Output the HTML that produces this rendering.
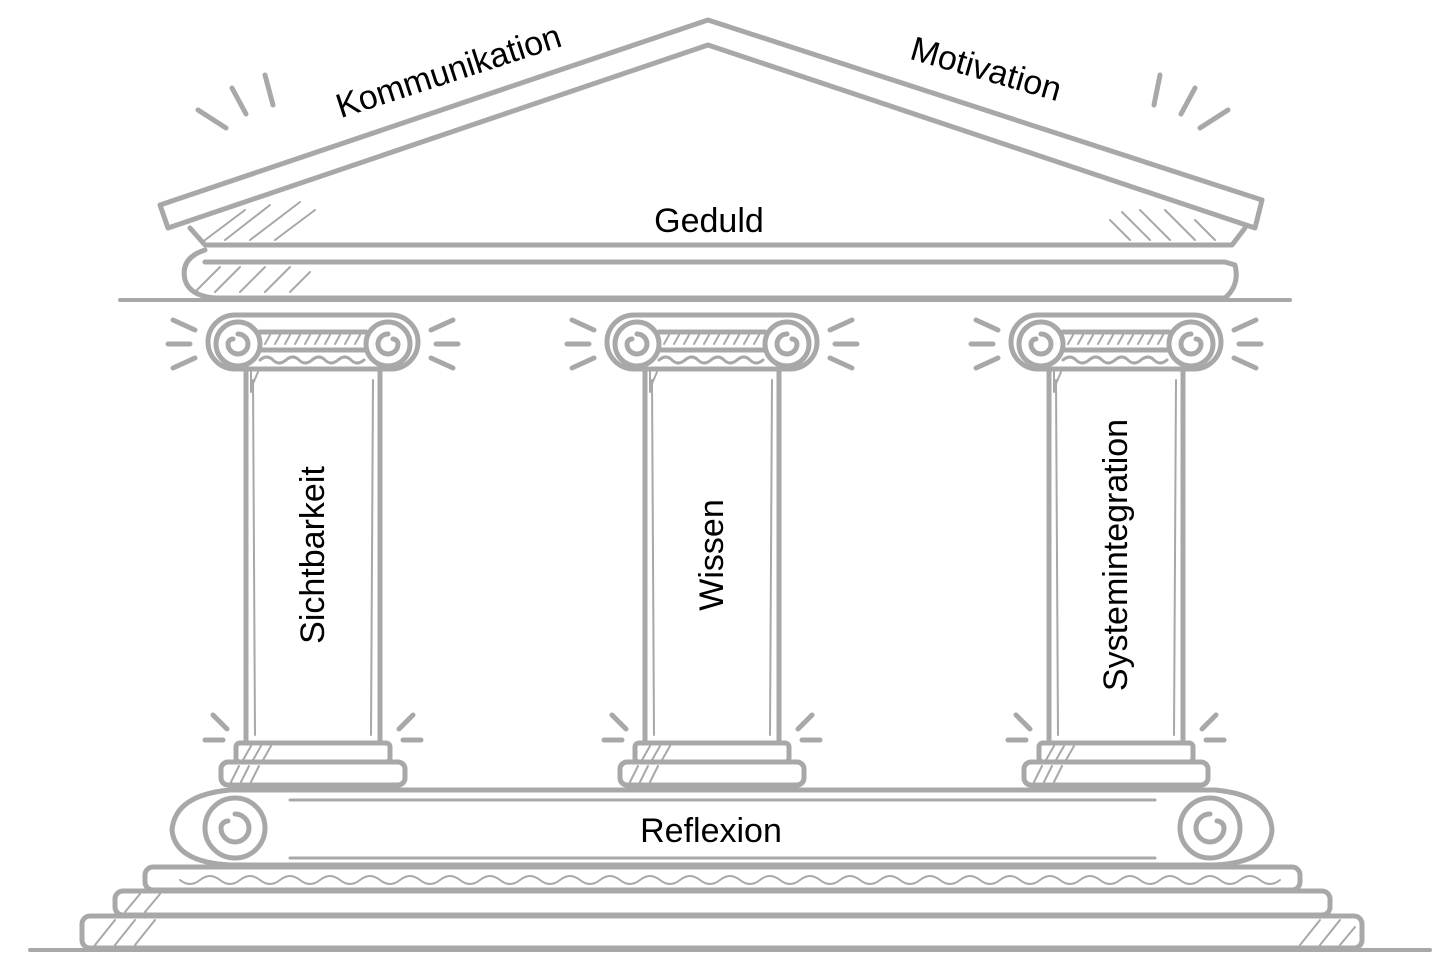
<!DOCTYPE html>
<html><head><meta charset="utf-8"><style>
html,body{margin:0;padding:0;background:#fff;}
svg{display:block}
text{font-family:"Liberation Sans",sans-serif;fill:#000;font-size:34px}
</style></head><body>
<svg width="1452" height="978" viewBox="0 0 1452 978" xmlns="http://www.w3.org/2000/svg">
<defs>
<g id="col" fill="none" stroke="#a8a8a8" stroke-width="5" stroke-linecap="round" stroke-linejoin="round">
  <rect x="-105" y="315" width="210" height="54" rx="27" fill="#fff"/>
  <circle cx="-75" cy="344" r="22"/><circle cx="75" cy="344" r="22"/>
  <path d="M-75 344 m0 -10 a10 10 0 1 1 -10 10 a5 5 0 0 1 5 -5"/>
  <path d="M75 344 m0 -10 a10 10 0 1 0 10 10 a5 5 0 0 0 -5 -5"/>
  <line x1="-53" y1="332" x2="53" y2="332"/><line x1="-53" y1="350" x2="53" y2="350"/>
  <path d="M-53 360 q7 -6 13 0 t13 0 t13 0 t13 0 t13 0 t13 0 t13 0 t13 0" stroke-width="3"/>
  <g stroke-width="2"><path d="M-48 344 l5 -9 M-38 344 l5 -9 M-28 344 l5 -9 M-18 344 l5 -9 M-8 344 l5 -9 M2 344 l5 -9 M12 344 l5 -9 M22 344 l5 -9 M32 344 l5 -9 M42 344 l5 -9"/></g>
  <rect x="-67" y="369" width="134" height="374" fill="#fff"/>
  <path d="M-60 380 L-58 735 M60 380 L58 735" stroke-width="2"/>
  <path d="M-62 372 l-0 20 M-55 372 l-6 14" stroke-width="2"/>
  <rect x="-77" y="743" width="154" height="19" rx="4" fill="#fff"/>
  <rect x="-92" y="762" width="184" height="23" rx="7" fill="#fff"/>
  <path d="M-70 760 l8 -14 M-60 760 l8 -14 M-50 760 l8 -14 M-82 782 l8 -16 M-72 782 l8 -16 M-62 782 l8 -16" stroke-width="2"/>
  <path d="M-140 320 l22 10 M-145 344 l22 0 M-140 368 l22 -10 M140 320 l-22 10 M145 344 l-22 0 M140 368 l-22 -10"/>
  <path d="M-100 715 l14 14 M-108 740 l18 0 M100 715 l-14 14 M108 740 l-18 0"/>
</g>
</defs>
<g fill="none" stroke="#a8a8a8" stroke-width="5" stroke-linecap="round" stroke-linejoin="round">
  <path d="M708 20 L1262 200 L1255 228 L708 45 L168 228 L160 205 Z" fill="#fff"/>
  <path d="M190 228 L205 245 L1232 245 L1245 228"/>
  <path d="M205 250 Q180 258 185 280 Q190 296 215 298 L1225 298 Q1240 285 1235 265 L1225 262 L205 262"/>
  <line x1="120" y1="300" x2="1290" y2="300" stroke-width="4"/>
  <g stroke-width="2">
   <path d="M205 240 l40 -30 M225 240 l45 -35 M250 240 l50 -38 M275 240 l40 -30 M1130 240 l-20 -20 M1150 240 l-28 -28 M1170 240 l-30 -30 M1195 240 l-30 -30 M1215 240 l-20 -20"/>
   <path d="M195 292 l25 -25 M215 292 l25 -25 M240 292 l25 -25 M265 292 l25 -25 M290 292 l20 -20"/>
  </g>
  <path d="M198 110 l28 18 M232 88 l14 26 M265 75 l8 30 M1160 75 l-6 30 M1195 88 l-14 26 M1228 110 l-28 18"/>
  <path d="M230 790 L1215 790 Q1270 795 1272 830 Q1270 862 1215 865 L230 865 Q175 862 172 830 Q175 795 230 790 Z" fill="#fff"/>
  <circle cx="235" cy="828" r="30"/><circle cx="1210" cy="828" r="30"/>
  <path d="M235 828 m0 -14 a14 14 0 1 1 -14 14 a7 7 0 0 1 7 -7"/>
  <path d="M1210 828 m0 -14 a14 14 0 1 0 14 14 a7 7 0 0 0 -7 -7"/>
  <line x1="290" y1="800" x2="1155" y2="800" stroke-width="3"/>
  <line x1="290" y1="858" x2="1155" y2="858" stroke-width="3"/>
  <rect x="145" y="867" width="1155" height="23" rx="8" fill="#fff"/>
  <path d="M180 880 q10 8 20 0 t20 0 t20 0 t20 0 t20 0 t20 0 t20 0 t20 0 t20 0 t20 0 t20 0 t20 0 t20 0 t20 0 t20 0 t20 0 t20 0 t20 0 t20 0 t20 0 t20 0 t20 0 t20 0 t20 0 t20 0 t20 0 t20 0 t20 0 t20 0 t20 0 t20 0 t20 0 t20 0 t20 0 t20 0 t20 0 t20 0 t20 0 t20 0 t20 0 t20 0 t20 0 t20 0 t20 0 t20 0 t20 0 t20 0 t20 0 t20 0 t20 0 t20 0 t20 0 t20 0 t20 0 t20 0" stroke-width="2"/>
  <rect x="115" y="891" width="1215" height="24" rx="8" fill="#fff"/>
  <rect x="82" y="916" width="1280" height="32" rx="8" fill="#fff"/>
  <line x1="30" y1="950" x2="1430" y2="950" stroke-width="4"/>
  <g stroke-width="2"><path d="M95 945 l20 -25 M115 945 l20 -25 M135 945 l20 -25 M125 912 l15 -18 M145 912 l15 -18 M1300 945 l20 -25 M1320 945 l20 -25 M1340 945 l15 -18"/></g>
</g>
<use href="#col" x="313"/>
<use href="#col" x="712"/>
<use href="#col" x="1116"/>
<text x="709" y="232" text-anchor="middle">Geduld</text>
<text x="711" y="842" text-anchor="middle">Reflexion</text>
<text transform="translate(452,82) rotate(-18)" text-anchor="middle">Kommunikation</text>
<text transform="translate(983,80) rotate(16)" text-anchor="middle">Motivation</text>
<text transform="translate(324,555) rotate(-90)" text-anchor="middle">Sichtbarkeit</text>
<text transform="translate(723,555) rotate(-90)" text-anchor="middle">Wissen</text>
<text transform="translate(1127,555) rotate(-90)" text-anchor="middle">Systemintegration</text>
</svg>
</body></html>
